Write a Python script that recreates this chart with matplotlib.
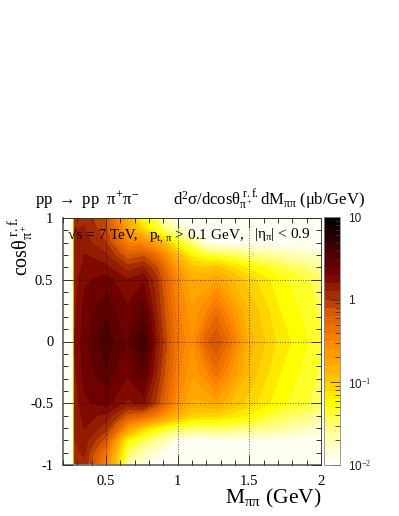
import numpy as np
import matplotlib
matplotlib.use("Agg")
import matplotlib.pyplot as plt
from matplotlib.colors import LinearSegmentedColormap, BoundaryNorm
from matplotlib.ticker import MultipleLocator

plt.rcParams['font.family'] = ['Liberation Serif', 'DejaVu Serif']
plt.rcParams['mathtext.fontset'] = 'custom'
plt.rcParams['mathtext.rm'] = 'Liberation Serif'
plt.rcParams['mathtext.it'] = 'Liberation Serif'
plt.rcParams['mathtext.bf'] = 'Liberation Serif'
plt.rcParams['mathtext.fallback'] = 'stix'

# invariant mass bins (GeV) and cos(theta) rows, values in ub/GeV
mass = [0.20, 0.272, 0.28, 0.35, 0.50, 0.60, 0.65, 0.76, 0.85, 0.90, 1.00, 1.10, 1.20, 1.27, 1.35, 1.50, 1.70, 2.00]
cos_theta = [-1.0, -0.9, -0.8, -0.7, -0.6, -0.5, -0.25, 0.0, 0.25, 0.5, 0.6, 0.7, 0.8, 0.9, 1.0]

row_m100 = [0.01, 0.01, 1.20, 1.20, 0.30, 0.07, 0.020, 0.014, 0.011, 0.010, 0.010, 0.010, 0.010, 0.010, 0.010, 0.010, 0.010, 0.010]
row_m090 = [0.01, 0.01, 1.20, 1.30, 0.40, 0.08, 0.035, 0.020, 0.014, 0.012, 0.011, 0.010, 0.010, 0.010, 0.010, 0.010, 0.010, 0.010]
row_m080 = [0.01, 0.01, 1.25, 1.40, 0.70, 0.12, 0.060, 0.035, 0.025, 0.020, 0.012, 0.011, 0.011, 0.012, 0.012, 0.012, 0.012, 0.011]
row_m070 = [0.01, 0.01, 1.30, 1.60, 1.10, 0.45, 0.220, 0.100, 0.060, 0.050, 0.038, 0.034, 0.034, 0.034, 0.032, 0.030, 0.025, 0.016]
row_m060 = [0.01, 0.01, 1.35, 1.70, 1.50, 0.95, 0.700, 0.550, 0.350, 0.250, 0.140, 0.090, 0.085, 0.085, 0.075, 0.060, 0.038, 0.025]
row_m050 = [0.01, 0.01, 1.40, 1.90, 2.20, 1.70, 1.500, 1.700, 0.950, 0.600, 0.260, 0.150, 0.150, 0.180, 0.130, 0.090, 0.055, 0.035]
row_m025 = [0.01, 0.01, 1.50, 2.20, 3.00, 2.30, 2.100, 3.000, 1.300, 0.850, 0.340, 0.210, 0.300, 0.450, 0.280, 0.120, 0.065, 0.038]
row_000 = [0.01, 0.01, 1.60, 2.30, 3.80, 2.70, 2.500, 4.500, 1.600, 1.000, 0.400, 0.250, 0.600, 0.800, 0.500, 0.140, 0.075, 0.042]
row_p025 = [0.01, 0.01, 1.50, 2.20, 3.00, 2.30, 2.100, 3.000, 1.300, 0.850, 0.340, 0.210, 0.300, 0.450, 0.280, 0.120, 0.065, 0.038]
row_p050 = [0.01, 0.01, 1.40, 1.90, 2.20, 1.80, 1.600, 1.900, 1.100, 0.700, 0.280, 0.160, 0.160, 0.190, 0.140, 0.090, 0.055, 0.035]
row_p060 = [0.01, 0.01, 1.35, 1.70, 1.70, 1.30, 1.100, 1.300, 0.850, 0.550, 0.200, 0.110, 0.100, 0.110, 0.090, 0.060, 0.040, 0.025]
row_p070 = [0.01, 0.01, 1.35, 1.60, 1.30, 0.85, 0.650, 0.750, 0.450, 0.300, 0.120, 0.060, 0.042, 0.040, 0.036, 0.028, 0.022, 0.016]
row_p080 = [0.01, 0.01, 1.30, 1.40, 1.00, 0.50, 0.330, 0.280, 0.180, 0.120, 0.050, 0.030, 0.013, 0.012, 0.011, 0.011, 0.011, 0.010]
row_p090 = [0.01, 0.01, 1.25, 1.30, 0.85, 0.35, 0.200, 0.090, 0.050, 0.035, 0.020, 0.012, 0.010, 0.010, 0.010, 0.010, 0.010, 0.010]
row_p100 = [0.01, 0.01, 1.20, 1.20, 0.75, 0.25, 0.150, 0.050, 0.035, 0.020, 0.012, 0.010, 0.010, 0.010, 0.010, 0.010, 0.010, 0.010]

z = np.array([row_m100, row_m090, row_m080, row_m070, row_m060, row_m050, row_m025, row_000,
              row_p025, row_p050, row_p060, row_p070, row_p080, row_p090, row_p100])

n_levels = 30
cmap = LinearSegmentedColormap.from_list('body', [
    (0.00, '#fffff4'), (0.12, '#ffff9a'), (0.24, '#ffff00'), (0.33, '#ffc800'),
    (0.50, '#ff8400'), (0.62, '#d85a00'), (0.68, '#a83200'), (0.78, '#740000'),
    (0.90, '#3a0000'), (1.00, '#040000')], N=n_levels)
levels = np.linspace(-2, 1, n_levels + 1)
norm = BoundaryNorm(levels, n_levels)

W, H = 399, 516
fig = plt.figure(figsize=(W / 100, H / 100), dpi=100)


def px(x, y):
    return x / W, 1 - y / H


ax = fig.add_axes([63 / W, 1 - 465 / H, (321 - 63) / W, (465 - 218) / H])
ax.set_facecolor('#fffff4')
cs = ax.contourf(mass, cos_theta, np.log10(np.clip(z, 0.0101, 9.9)), levels=levels, cmap=cmap, norm=norm)
ax.set_xlim(0.2, 2)
ax.set_ylim(-1, 1)
ax.xaxis.set_minor_locator(MultipleLocator(0.1))
ax.yaxis.set_minor_locator(MultipleLocator(0.1))
ax.set_xticks([0.5, 1, 1.5, 2])
ax.set_xticklabels(['0.5', '1', '1.5', '2'], fontsize=10.5)
ax.set_yticks([-1, -0.5, 0, 0.5, 1])
ax.set_yticklabels(['-1', '-0.5', '0', '0.5', '1'], fontsize=10.5)
ax.tick_params(which='major', direction='in', length=7, width=0.7, top=True, right=True, color='#333333', pad=7)
ax.tick_params(which='minor', direction='in', length=3.5, width=0.7, top=True, right=True, color='#333333')
ax.grid(True, which='major', color='black', linestyle=':', linewidth=0.7, alpha=0.6)
ax.set_axisbelow(False)
for s in ['left', 'bottom']:
    ax.spines[s].set_color('#777777')
    ax.spines[s].set_linewidth(1.4)
for s in ['top', 'right']:
    ax.spines[s].set_color('#444444')
    ax.spines[s].set_linewidth(0.7)

# colour bar
cax = fig.add_axes([323.5 / W, 1 - 465 / H, 16.5 / W, (465 - 217) / H])
cb = fig.colorbar(cs, cax=cax, ticks=[-2, -1, 0, 1], drawedges=False)
cb.outline.set_linewidth(0.6)
cb.outline.set_edgecolor('#888888')
minor = [np.log10(m * d) for d in [0.01, 0.1, 1] for m in range(2, 10)]
cax.yaxis.set_ticks(minor, minor=True)
cax.set_yticklabels([r'10$^{-2}$', r'10$^{-1}$', '1', '10'], fontsize=8.5,
                    family='Liberation Sans', color='#222222')
cax.tick_params(which='major', direction='in', length=7, width=0.6, color='#333333', pad=6, labelsize=8.5)
cax.tick_params(which='minor', direction='in', length=3.5, width=0.6, color='#333333')

# titles and labels
x, y = px(35, 200)
fig.text(x, y, r'pp $\rightarrow$ pp  $\pi^{+}\pi^{-}$', fontsize=12, va='center', ha='left')
x, y = px(173, 200)
fig.text(x, y, r'd$^{2}\sigma$/dcos$\theta_{\pi^{+}}^{\,\mathrm{r.f.}}$dM$_{\pi\pi}$ ($\mu$b/GeV)', fontsize=12, va='center', ha='left')
x, y = px(21, 246)
fig.text(x, y, r'cos$\theta_{\pi^{+}}^{\,\mathrm{r.f.}}$', fontsize=14.5, rotation=90, va='center', ha='center')
x, y = px(273, 498)
fig.text(x, y, r'M$_{\pi\pi}$ (GeV)', fontsize=15.5, va='center', ha='center')

x, y = px(68, 234)
fig.text(x, y, '\u221as = 7 TeV,', fontsize=11, va='center', ha='left')
x, y = px(149, 237)
fig.text(x, y, r'p$_{\mathrm{t},\,\pi}$ > 0.1 GeV,', fontsize=11, va='center', ha='left')
x, y = px(254, 235)
fig.text(x, y, r'|$\eta_{\pi}$| < 0.9', fontsize=11, va='center', ha='left')

plt.savefig('out.png', dpi=100)
plt.close()
